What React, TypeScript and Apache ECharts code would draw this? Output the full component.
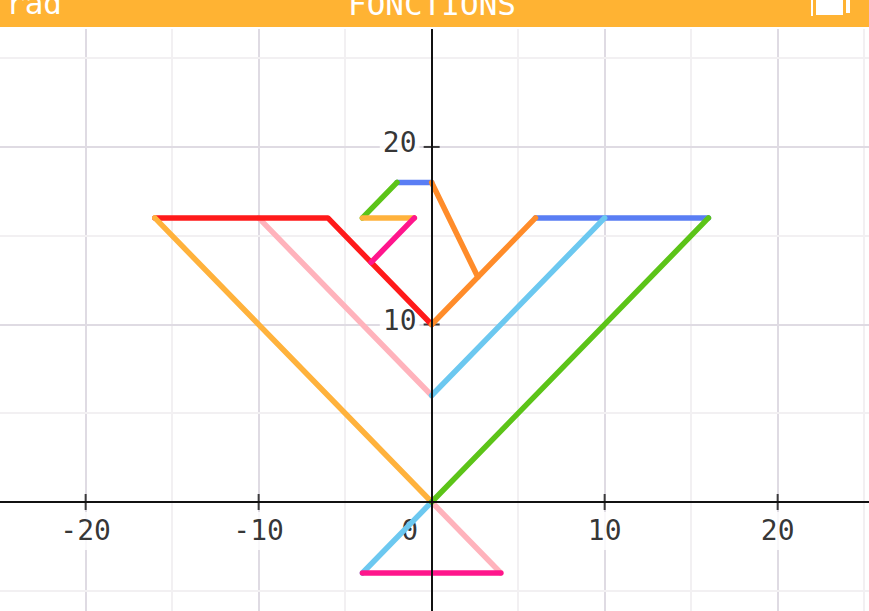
import React, { useEffect, useRef } from "react";
import * as echarts from "echarts";

// Grid and tick values
const xGridValues = [-25, -20, -15, -10, -5, 0, 5, 10, 15, 20, 25];
const yGridValues = [-5, 0, 5, 10, 15, 20, 25];
const xTickLabels = [-20, -10, 10, 20];
const yTickLabels = [10, 20];

// Segments of the drawing (x, y)
const leftOuterWing = [[-16, 16], [0, 0]];
const beakTop = [[-4, 16], [-1, 16]];
const leftTopEdge = [[-16, 16], [-6, 16], [0, 10]];
const leftInnerWing = [[-10, 16], [0, 6]];
const tailRight = [[0, 0], [4, -4]];
const rightInnerWing = [[0, 6], [10, 16]];
const tailLeft = [[0, 0], [-4, -4]];
const rightOuterWing = [[0, 0], [16, 16]];
const headBack = [[-4, 16], [-2, 18]];
const rightTopEdge = [[6, 16], [16, 16]];
const headTop = [[-2, 18], [0, 18]];
const neckRight = [[0, 10], [6, 16]];
const neckDiag = [[0, 18], [2.67, 12.67]];
const beakLower = [[-1, 16], [-3.5, 13.5]];
const tailBase = [[-4, -4], [4, -4]];

const C = {
  lightOrange: "#ffb23c",
  red: "#ff1a1a",
  palePink: "#ffb3bc",
  skyBlue: "#6cc8f0",
  green: "#5cc418",
  blue: "#5a7ef4",
  darkOrange: "#ff8c2a",
  magenta: "#ff168c",
};

const segments: [number[][], string][] = [
  [leftInnerWing, C.palePink],
  [tailRight, C.palePink],
  [leftTopEdge, C.red],
  [leftOuterWing, C.lightOrange],
  [rightTopEdge, C.blue],
  [headTop, C.blue],
  [rightInnerWing, C.skyBlue],
  [tailLeft, C.skyBlue],
  [rightOuterWing, C.green],
  [headBack, C.green],
  [beakTop, C.lightOrange],
  [neckRight, C.darkOrange],
  [neckDiag, C.darkOrange],
  [beakLower, C.magenta],
  [tailBase, C.magenta],
];

const MAJOR = "#dfdbe3";
const MINOR = "#f2f0f2";
const AXIS = "#111";
const MONO = "'DejaVu Sans Mono', monospace";

const labelStyle = {
  show: true,
  position: "inside" as const,
  color: "#000",
  fontFamily: MONO,
  fontSize: 28,
  backgroundColor: "#fff",
  padding: [5, 3],
};

export default function App() {
  const ref = useRef<HTMLDivElement>(null);
  useEffect(() => {
    if (!ref.current) return;
    const chart = echarts.init(ref.current, null, { renderer: "svg" });
    const series: any[] = [
      {
        type: "line",
        data: [],
        z: 1,
        silent: true,
        markLine: {
          silent: true,
          symbol: "none",
          animation: false,
          z: 1,
          label: { show: false },
          data: [
            ...xGridValues.map((v) => ({
              xAxis: v,
              lineStyle: { color: v % 10 === 0 ? MAJOR : MINOR, width: 2, type: "solid" },
            })),
            ...yGridValues.map((v) => ({
              yAxis: v,
              lineStyle: { color: v % 10 === 0 ? MAJOR : MINOR, width: 2, type: "solid" },
            })),
          ],
        },
      },
      {
        type: "scatter",
        data: xTickLabels.map((v) => [v, 0]),
        symbol: "rect",
        symbolSize: [2, 16],
        itemStyle: { color: AXIS },
        z: 2,
        silent: true,
        label: { ...labelStyle, offset: [0, 29], formatter: (p: any) => String(p.value[0]) },
      },
      {
        type: "scatter",
        data: yTickLabels.map((v) => [0, v]),
        symbol: "rect",
        symbolSize: [16, 2],
        itemStyle: { color: AXIS },
        z: 2,
        silent: true,
        label: { ...labelStyle, offset: [-32, -4], formatter: (p: any) => String(p.value[1]) },
      },
      {
        type: "scatter",
        data: [[0, 0]],
        symbolSize: 0,
        z: 2,
        silent: true,
        label: { ...labelStyle, offset: [-22, 29], formatter: () => "0" },
      },
      ...segments.map(([pts, color]) => ({
        type: "line",
        data: pts,
        z: 3,
        silent: true,
        showSymbol: false,
        symbol: "none",
        lineStyle: { color, width: 5.5, cap: "round", join: "round" },
      })),
    ];
    chart.setOption({
      animation: false,
      backgroundColor: "#fff",
      grid: { left: 0, right: 0, top: 28, bottom: 0, containLabel: false },
      xAxis: {
        type: "value",
        min: -24.95,
        max: 25.28,
        z: 5,
        axisLine: { show: true, onZero: true, lineStyle: { color: AXIS, width: 2 } },
        axisTick: { show: false },
        axisLabel: { show: false },
        splitLine: { show: false },
      },
      yAxis: {
        type: "value",
        min: -6.14,
        max: 26.7,
        z: 5,
        axisLine: { show: true, onZero: true, lineStyle: { color: AXIS, width: 2 } },
        axisTick: { show: false },
        axisLabel: { show: false },
        splitLine: { show: false },
      },
      series,
      graphic: [
        { type: "rect", z: 100, shape: { x: 0, y: 0, width: 869, height: 27 }, style: { fill: "#ffb333" } },
        { type: "rect", z: 100, shape: { x: 0, y: 27, width: 869, height: 2 }, style: { fill: "#fff" } },
        {
          type: "text",
          z: 101,
          style: { text: "rad", x: 6, y: 2.5, fill: "#fff", font: `31px ${MONO}`, textAlign: "left", textVerticalAlign: "middle", align: "left", verticalAlign: "middle" },
        },
        {
          type: "text",
          z: 101,
          style: { text: "FONCTIONS", x: 432, y: 4.3, fill: "#fff", font: `31px ${MONO}`, textAlign: "center", textVerticalAlign: "middle", align: "center", verticalAlign: "middle" },
        },
        { type: "rect", z: 101, shape: { x: 811, y: 0, width: 2, height: 16 }, style: { fill: "#fff" } },
        { type: "rect", z: 101, shape: { x: 816, y: 0, width: 27, height: 15 }, style: { fill: "#fff" } },
        { type: "rect", z: 101, shape: { x: 846, y: 0, width: 4, height: 13 }, style: { fill: "#fff" } },
      ],
    });
    return () => chart.dispose();
  }, []);
  return (
    <div
      ref={ref}
      style={{ position: "absolute", left: 0, top: 0, width: 869, height: 611, background: "#fff", overflow: "hidden" }}
    />
  );
}
